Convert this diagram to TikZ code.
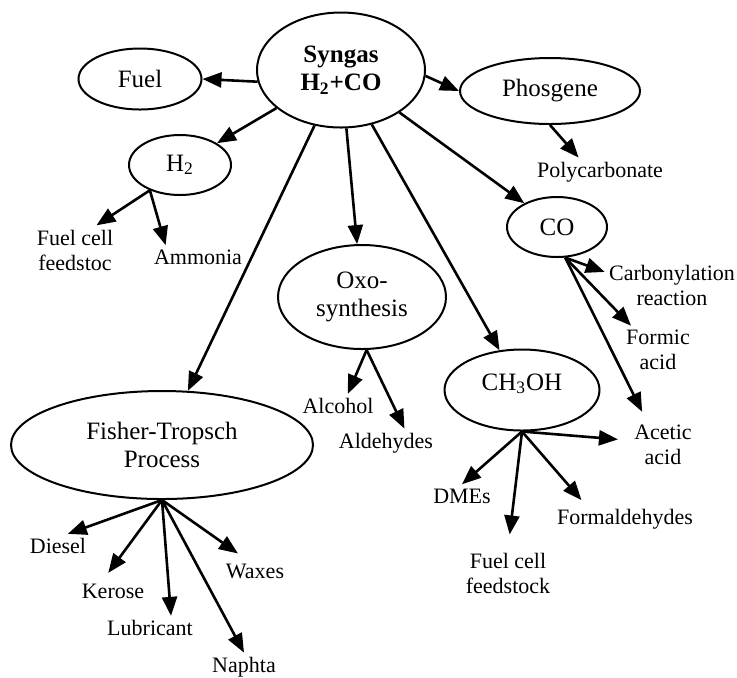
\documentclass[tikz,border=0pt]{standalone}
\usepackage{fontspec}
\setmainfont{Liberation Serif}
\usetikzlibrary{shapes.geometric,arrows.meta}
\newcommand{\ellfont}{\fontsize{12.5}{14}\selectfont}
\newcommand{\leaffont}{\fontsize{11}{12.5}\selectfont}
\tikzset{
  prod/.style={ellipse,draw,line width=1pt,inner sep=0pt,align=center,font=\ellfont},
  leaf/.style={inner sep=2pt,align=center,font=\leaffont},
  arr/.style={-{Triangle[length=9.5pt,width=7.5pt]},line width=1.3pt}
}

\begin{document}
\begin{tikzpicture}[x=0.5pt,y=-0.5pt]
        \useasboundingbox (0,0) rectangle (737,677);
        \node[prod,minimum width=84pt,minimum height=57.5pt] (syngas) at (341,70)
              {\textbf{Syngas}\\\textbf{H\textsubscript{2}+CO}};
        \node[prod,minimum width=61.5pt,minimum height=30.5pt] (fuel) at (140,79) {Fuel};
        \node[prod,minimum width=51pt,minimum height=30pt] (h2) at (180,165) {H\textsubscript{2}};
        \node[prod,minimum width=90pt,minimum height=33pt] (phosgene) at (550,91) {Phosgene};
        \node[prod,minimum width=50pt,minimum height=30pt] (co) at (557,227) {CO};
        \node[prod,minimum width=84pt,minimum height=52pt] (oxo) at (362,297) {Oxo-\\synthesis};
        \node[prod,minimum width=77.5pt,minimum height=40.5pt,text depth=8pt] (ch3oh) at (522,390) {CH\textsubscript{3}OH};
        \node[prod,minimum width=151pt,minimum height=54pt] (fisher) at (162,445) {Fisher-Tropsch\\Process};

        \node[leaf] (fcfa) at (75,250) {Fuel cell\\feedstoc};
        \node[leaf] (ammonia) at (198,257) {Ammonia};
        \node[leaf] (poly) at (600,172) {Polycarbonate};
        \node[leaf] (carbonyl) at (672,285) {Carbonylation\\reaction};
        \node[leaf] (formic) at (658,350) {Formic\\acid};
        \node[leaf] (acetic) at (663,445) {Acetic\\acid};
        \node[leaf] (alcohol) at (338,406) {Alcohol};
        \node[leaf] (aldehydes) at (386,443) {Aldehydes};
        \node[leaf] (dmes) at (462,496) {DMEs};
        \node[leaf] (fcfb) at (508,573) {Fuel cell\\feedstock};
        \node[leaf] (formald) at (625,519) {Formaldehydes};
        \node[leaf] (diesel) at (58,546) {Diesel};
        \node[leaf] (kerose) at (113,591) {Kerose};
        \node[leaf] (lubricant) at (150,628) {Lubricant};
        \node[leaf] (naphta) at (244,667) {Naphta};
        \node[leaf] (waxes) at (255,571) {Waxes};

        \draw[arr] (syngas.188) -- (fuel.east);
        \draw[arr] (syngas) -- (h2);
        \draw[arr] (syngas.356) -- (phosgene.west);
        \draw[arr] (syngas) -- (fisher);
        \draw[arr] (syngas) -- (oxo);
        \draw[arr] (syngas) -- (ch3oh);
        \draw[arr] (syngas) -- (co);

        \draw[arr] (phosgene.south) -- (poly.146);
        \draw[arr] (h2.220) -- (fcfa.49);
        \draw[arr] (h2.220) -- (ammonia.160);

        \draw[arr] (co.285) -- (carbonyl.169);
        \draw[arr] (co.285) -- (formic.138);
        \draw[arr,shorten >=5pt] (co.285) -- (acetic.124);

        \draw[arr] (oxo.275) -- (alcohol.51);
        \draw[arr] (oxo.275) -- (aldehydes.38);

        \draw[arr] (ch3oh.south) -- (dmes.north);
        \draw[arr,shorten >=7pt] (ch3oh.south) -- (fcfb.north);
        \draw[arr,shorten >=3pt] (ch3oh.south) -- (formald.160);
        \draw[arr,shorten >=6pt] (ch3oh.south) -- (acetic.172);

        \draw[arr] (fisher.south) -- (diesel.51);
        \draw[arr,shorten >=4pt] (fisher.south) -- (kerose.129);
        \draw[arr] (fisher.south) -- (lubricant.30);
        \draw[arr] (fisher.south) -- (naphta.north);
        \draw[arr,shorten >=5pt] (fisher.south) -- (waxes.127);
      \end{tikzpicture}
\end{document}
